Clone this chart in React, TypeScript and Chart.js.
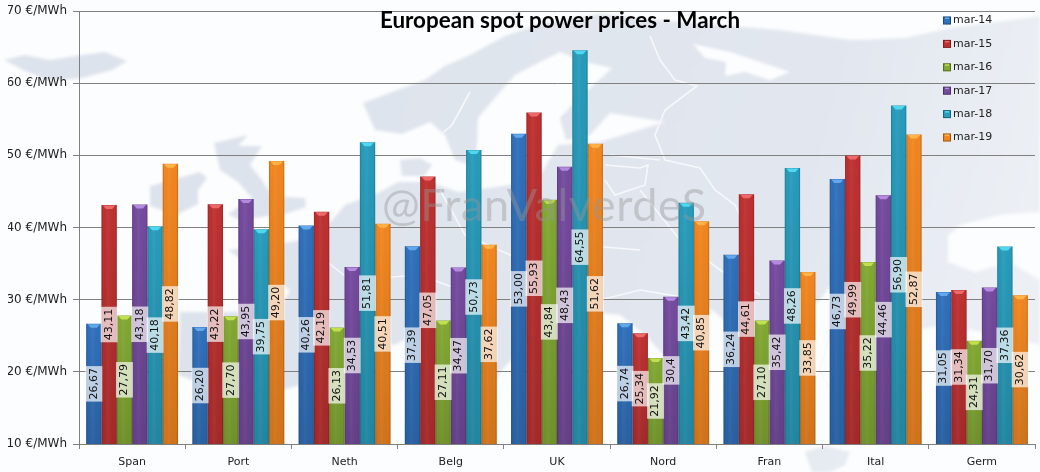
import React, { useEffect, useRef } from "react";
import { Chart, registerables } from "chart.js";

Chart.register(...registerables);

const categories = ["Span", "Port", "Neth", "Belg", "UK", "Nord", "Fran", "Ital", "Germ"];
const seriesNames = ["mar-14", "mar-15", "mar-16", "mar-17", "mar-18", "mar-19"];
const mar14 = [26.67, 26.2, 40.26, 37.39, 53.0, 26.74, 36.24, 46.73, 31.05];
const mar15 = [43.11, 43.22, 42.19, 47.05, 55.93, 25.34, 44.61, 49.99, 31.34];
const mar16 = [27.79, 27.7, 26.13, 27.11, 43.84, 21.92, 27.1, 35.22, 24.31];
const mar17 = [43.18, 43.95, 34.53, 34.47, 48.43, 30.4, 35.42, 44.46, 31.7];
const mar18 = [40.18, 39.75, 51.81, 50.73, 64.55, 43.42, 48.26, 56.9, 37.36];
const mar19 = [48.82, 49.2, 40.51, 37.62, 51.62, 40.85, 33.85, 52.87, 30.62];
const seriesValues = [mar14, mar15, mar16, mar17, mar18, mar19];
const seriesColors = ["#2f70bc", "#bf3030", "#82a932", "#744a9f", "#279cbc", "#f3861f"];
const capColors = ["#62a8ea", "#ee6a6a", "#c2e04e", "#b48ae0", "#4fd8ee", "#ffb44a"];
const oneDecimalValues = [30.4];
const titleText = "European spot power prices - March";
const watermarkText = "@FranValverdeS";

// Decorative background map of Europe (page pixels), not chart data.
const landShapes: number[][][] = [
  // Iceland, Ireland, Great Britain
  [[4,60],[25,55],[50,60],[75,56],[105,52],[127,61],[112,70],[82,78],[50,81],[25,71]],
  [[150,186],[172,180],[200,172],[207,178],[198,190],[198,204],[176,215],[150,206]],
  [[214,143],[248,135],[238,146],[262,146],[250,165],[262,180],[272,196],[305,198],[306,207],[285,214],[240,220],[228,214],[252,198],[238,182],[220,170]],
  // Norway + Sweden + Finland + Russia + Turkey band
  [[363,103],[392,92],[425,80],[445,66],[470,55],[505,36],[540,24],[600,14],[680,22],[780,30],[850,40],[905,38],[950,28],[1010,20],[1040,16],[1040,212],[1000,215],[960,225],[948,236],[948,262],[975,272],[1010,262],[1040,280],[1040,345],[1000,335],[940,325],[900,335],[880,320],[905,300],[880,290],[830,286],[820,300],[800,312],[795,345],[812,372],[790,395],[765,372],[750,345],[735,330],[715,312],[690,300],[675,330],[695,370],[670,362],[645,335],[620,315],[590,312],[555,325],[525,345],[500,372],[492,385],[470,372],[455,340],[430,325],[395,345],[365,340],[345,325],[320,345],[300,385],[265,395],[225,392],[178,375],[180,312],[230,312],[280,310],[290,290],[245,262],[228,250],[275,245],[300,240],[322,232],[345,205],[380,192],[398,182],[430,182],[458,192],[510,185],[540,176],[558,145],[600,142],[665,122],[610,113],[590,135],[566,140],[560,118],[572,105],[612,68],[585,62],[560,52],[540,62],[515,75],[500,92],[478,118],[476,167],[455,160],[445,135],[430,122],[402,134],[375,130]],
  // Denmark, eastern Mediterranean island
  [[400,160],[420,158],[432,165],[424,176],[402,176]],
  [[805,452],[825,446],[850,452],[845,465],[830,472],[812,472]],
];
const seaShapes: number[][][] = [
  [[693,44],[730,52],[760,62],[790,72],[770,80],[745,72],[725,76],[726,62],[705,58]],
];
const borderLines: number[][][] = [
  [[470,92],[452,125],[440,135]],
  [[650,36],[660,60],[675,80],[697,86],[665,110],[655,135],[665,160],[700,168],[715,190],[735,205],[745,225]],
  [[605,165],[640,168],[648,165],[645,185],[615,195],[605,180]],
  [[610,155],[660,160]],
  [[640,190],[680,240],[720,270],[760,295]],
  [[440,190],[465,235],[510,255],[580,245],[640,250]],
  [[300,240],[350,280],[420,275],[460,290]],
  [[560,270],[600,300],[640,290],[700,300]],
  [[830,335],[820,370],[830,390]],
];

function valueLabel(v: number): string {
  return (oneDecimalValues.includes(v) ? v.toFixed(1) : v.toFixed(2)).replace(".", ",");
}

function tracePath(ctx: CanvasRenderingContext2D, pts: number[][]) {
  ctx.beginPath();
  pts.forEach((p, i) => (i ? ctx.lineTo(p[0], p[1]) : ctx.moveTo(p[0], p[1])));
}

const mapPlugin = {
  id: "mapBackground",
  beforeDraw(chart: any) {
    const ctx: CanvasRenderingContext2D = chart.ctx;
    ctx.save();
    ctx.fillStyle = "#fcfdfe";
    ctx.fillRect(0, 0, chart.width, chart.height);
    ctx.filter = "blur(1.5px)";
    const land = ctx.createLinearGradient(300, 0, 1040, 200);
    land.addColorStop(0, "#dde3ec");
    land.addColorStop(0.7, "#e2e7ef");
    land.addColorStop(1, "#ecf0f5");
    ctx.fillStyle = land;
    landShapes.forEach((s) => { tracePath(ctx, s); ctx.closePath(); ctx.fill(); });
    ctx.fillStyle = "#fcfdfe";
    seaShapes.forEach((s) => { tracePath(ctx, s); ctx.closePath(); ctx.fill(); });
    ctx.filter = "none";
    ctx.strokeStyle = "#f6f8fb";
    ctx.lineWidth = 1.6;
    borderLines.forEach((s) => { tracePath(ctx, s); ctx.stroke(); });
    ctx.restore();
  },
};

const barFinishPlugin = {
  id: "barFinish",
  afterDatasetDraw(chart: any, args: any) {
    const ctx: CanvasRenderingContext2D = chart.ctx;
    const base = chart.chartArea.bottom;
    const meta = chart.getDatasetMeta(args.index);
    meta.data.forEach((el: any) => {
      const { x, y, width } = el.getProps(["x", "y", "width"], true);
      const l = x - width / 2;
      const r = x + width / 2;
      const side = ctx.createLinearGradient(l, 0, r, 0);
      side.addColorStop(0, "rgba(0,0,0,0.2)");
      side.addColorStop(0.12, "rgba(0,0,0,0)");
      side.addColorStop(0.4, "rgba(255,255,255,0.05)");
      side.addColorStop(0.88, "rgba(0,0,0,0)");
      side.addColorStop(1, "rgba(0,0,0,0.2)");
      ctx.fillStyle = side;
      ctx.fillRect(l, y, width, base - y);
      const fade = ctx.createLinearGradient(0, y, 0, base);
      fade.addColorStop(0, "rgba(0,0,0,0)");
      fade.addColorStop(1, "rgba(0,0,0,0.14)");
      ctx.fillStyle = fade;
      ctx.fillRect(l, y, width, base - y);
      ctx.fillStyle = capColors[args.index];
      ctx.beginPath();
      ctx.moveTo(l + 1.5, y + 0.5);
      ctx.lineTo(r - 1.5, y + 0.5);
      ctx.lineTo(x + width / 5, y + 4);
      ctx.lineTo(x - width / 5, y + 4);
      ctx.closePath();
      ctx.fill();
    });
  },
};

const overlayPlugin = {
  id: "overlayText",
  afterDatasetsDraw(chart: any) {
    const ctx: CanvasRenderingContext2D = chart.ctx;
    const base = chart.chartArea.bottom;
    ctx.save();
    ctx.font = "11px 'DejaVu Sans'";
    chart.data.datasets.forEach((ds: any, di: number) => {
      chart.getDatasetMeta(di).data.forEach((el: any, i: number) => {
        const { x, y } = el.getProps(["x", "y"], true);
        const text = valueLabel(ds.data[i]);
        const cy = (y + base) / 2;
        const w = ctx.measureText(text).width + 4;
        ctx.fillStyle = "rgba(255,255,255,0.68)";
        ctx.fillRect(x - 8.5, cy - w / 2, 17, w);
        ctx.save();
        ctx.translate(x, cy);
        ctx.rotate(-Math.PI / 2);
        ctx.fillStyle = "#111";
        ctx.textAlign = "center";
        ctx.textBaseline = "middle";
        ctx.fillText(text, 0, 0);
        ctx.restore();
      });
    });
    // Legend
    ctx.textAlign = "left";
    ctx.textBaseline = "middle";
    chart.data.datasets.forEach((ds: any, di: number) => {
      const ly = 20.5 + di * 23.4;
      ctx.fillStyle = ds.backgroundColor;
      ctx.fillRect(943, ly - 4, 8, 8);
      ctx.strokeStyle = "rgba(0,0,0,0.35)";
      ctx.lineWidth = 1;
      ctx.strokeRect(943.5, ly - 3.5, 7, 7);
      ctx.fillStyle = capColors[di];
      ctx.fillRect(945, ly - 3, 4, 1.5);
      ctx.fillStyle = "#222";
      ctx.fillText(ds.label, 953, ly);
    });
    // Watermark
    ctx.font = "45px Lato";
    ctx.fillStyle = "rgba(150,150,150,0.42)";
    (ctx as any).letterSpacing = "0.6px";
    ctx.fillText(watermarkText, 382, 206);
    (ctx as any).letterSpacing = "0px";
    // Title
    ctx.font = "bold 22.4px Lato";
    ctx.fillStyle = "#000";
    ctx.textAlign = "center";
    ctx.fillText(titleText, 560, 21);
    ctx.restore();
  },
};

export default function App() {
  const ref = useRef<HTMLCanvasElement>(null);
  useEffect(() => {
    const chart = new Chart(ref.current!, {
      type: "bar",
      data: {
        labels: categories,
        datasets: seriesNames.map((name, i) => ({
          label: name,
          data: seriesValues[i],
          backgroundColor: seriesColors[i],
          borderWidth: 0,
          categoryPercentage: 0.865,
          barPercentage: 1,
        })),
      },
      options: {
        responsive: false,
        animation: false,
        layout: { autoPadding: false, padding: { top: 11, right: 5, left: 8, bottom: 0 } },
        plugins: { legend: { display: false }, title: { display: false }, tooltip: { enabled: false } },
        scales: {
          x: {
            afterFit: (s: any) => { s.height = 28; },
            grid: { drawOnChartArea: false, drawTicks: true, tickLength: 5, color: "#808080", offset: true },
            border: { color: "#808080" },
            ticks: { font: { family: "DejaVu Sans", size: 11 }, color: "#222", maxRotation: 0, autoSkip: false, padding: 7 },
          },
          y: {
            min: 10,
            max: 70,
            afterFit: (s: any) => { s.width = 71; s.paddingTop = 0; s.paddingBottom = 0; },
            grid: { color: "#808080", tickLength: 6 },
            border: { color: "#808080" },
            ticks: {
              stepSize: 10,
              font: { family: "DejaVu Sans", size: 12 },
              color: "#222",
              padding: 6,
              callback: (v: any) => `${v} €/MWh`,
            },
          },
        },
      },
      plugins: [mapPlugin, barFinishPlugin, overlayPlugin],
    } as any);
    return () => chart.destroy();
  }, []);
  return (
    <div style={{ position: "absolute", left: 0, top: 0 }}>
      <canvas ref={ref} width={1040} height={472} style={{ display: "block" }} />
    </div>
  );
}
